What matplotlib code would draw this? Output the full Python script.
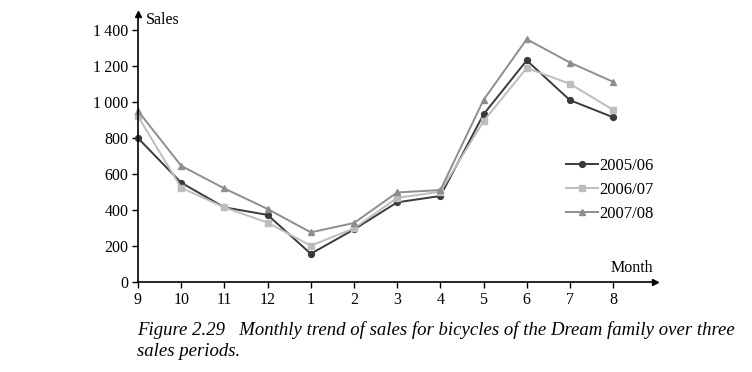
import numpy as np
from matplotlib import pyplot as plt

months = ['9', '10', '11', '12', '1', '2', '3', '4', '5', '6', '7', '8']
sales_0506 = [800, 552, 415, 373, 157, 292, 443, 478, 932, 1232, 1011, 916]
sales_0607 = [921, 524, 415, 330, 202, 298, 468, 502, 894, 1190, 1102, 957]
sales_0708 = [951, 646, 520, 406, 276, 328, 498, 511, 1012, 1350, 1220, 1113]
series_names = ['2005/06', '2006/07', '2007/08']
yticks = [0, 200, 400, 600, 800, 1000, 1200, 1400]

plt.rcParams['font.family'] = ['Liberation Serif', 'DejaVu Serif']
plt.rcParams['font.size'] = 11.5

fig = plt.figure(figsize=(7.52, 3.72), dpi=100)
ax = fig.add_axes([138/752, 90/372, 517/752, 268/372])

x = np.arange(len(months))
styles = [('#3a3a3a', 'o'), ('#bdbdbd', 's'), ('#8e8e8e', '^')]
for vals, name, (c, m) in zip([sales_0506, sales_0607, sales_0708], series_names, styles):
    ax.plot(x, vals, color=c, marker=m, markersize=4.2, lw=1.4, label=name, clip_on=False)

ax.set_xlim(0, 11.97)
ax.set_ylim(0, 1490)
ax.set_xticks(x)
ax.set_xticklabels(months)
ax.set_yticks(yticks)
ax.set_yticklabels([f'{v:,}'.replace(',', '\u2009') for v in yticks])
ax.tick_params(direction='out', length=4, width=1, colors='black', pad=3)
for s in ['top', 'right']:
    ax.spines[s].set_visible(False)
for s in ['left', 'bottom']:
    ax.spines[s].set_linewidth(1.2)
# arrow heads on the axes
ax.plot(1, 0, '>k', markersize=4, transform=ax.transAxes, clip_on=False)
ax.plot(0, 1, '^k', markersize=4, transform=ax.transAxes, clip_on=False)

fig.text(146/752, 1 - 20/372, 'Sales', ha='left', va='center', fontsize=11.5)
fig.text(653/752, 1 - 268/372, 'Month', ha='right', va='center', fontsize=11.5)

ax.legend(loc='upper left', bbox_to_anchor=(566/752, 1 - 158/372), bbox_transform=fig.transFigure,
          frameon=False, borderpad=0, borderaxespad=0, handlelength=1.9, handletextpad=0.1,
          labelspacing=0.48, fontsize=12)

fig.text(137/752, 1 - 330/372, 'Figure 2.29   Monthly trend of sales for bicycles of the Dream family over three',
         style='italic', fontsize=13.5, ha='left', va='center')
fig.text(137/752, 1 - 352/372, 'sales periods.', style='italic', fontsize=13.5, ha='left', va='center')

fig.savefig('out.png', dpi=100)
